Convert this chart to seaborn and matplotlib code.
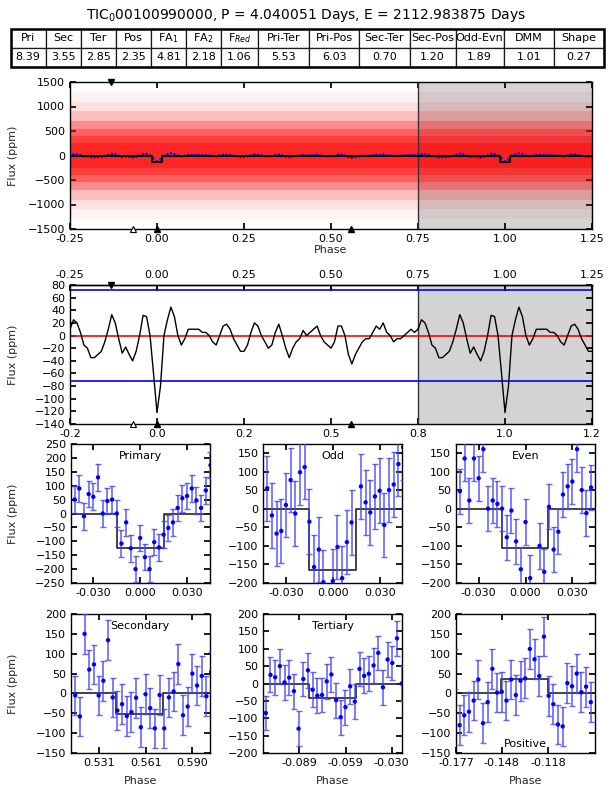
import numpy as np
import pandas as pd
import matplotlib
matplotlib.use('Agg')
import matplotlib.pyplot as plt
import seaborn as sns
from matplotlib.ticker import FormatStrFormatter, MultipleLocator
from matplotlib.patches import Rectangle

sns.set_theme(style='ticks')
plt.rcParams['font.family'] = ['DejaVu Sans']
plt.rcParams.update({
    'font.size': 8, 'xtick.labelsize': 8, 'ytick.labelsize': 8,
    'axes.labelsize': 8, 'axes.linewidth': 1.0,
    'xtick.direction': 'in', 'ytick.direction': 'in',
    'xtick.major.size': 4, 'ytick.major.size': 4,
    'axes.edgecolor': 'black', 'text.color': 'black',
    'xtick.color': 'black', 'ytick.color': 'black',
    'mathtext.fontset': 'dejavusans',
})

# ---------------- header info ----------------
tic_id = '00100990000'
period = 4.040051
epoch = 2112.983875
metric_names = ['Pri', 'Sec', 'Ter', 'Pos', 'FA$_1$', 'FA$_2$', 'F$_{Red}$',
                'Pri-Ter', 'Pri-Pos', 'Sec-Ter', 'Sec-Pos', 'Odd-Evn', 'DMM', 'Shape']
metric_values = [8.39, 3.55, 2.85, 2.35, 4.81, 2.18, 1.06,
                 5.53, 6.03, 0.70, 1.20, 1.89, 1.01, 0.27]

# ---------------- event phases / model ----------------
pri_phase = 0.0
sec_phase = 0.5567
ter_phase = -0.0676
pos_phase = -0.1331
tdur = 0.03
pri_depth = -125

# ---------------- full phased cloud: spread of raw points (ppm) ----------------
cloud_halfwidth = [1300, 1100, 900, 700, 550, 400, 250]

# ---------------- smoothed light curve (panel 2) ----------------
smooth_flux = [10, 25, 20, 5, -15, -20, -35, -35, -30, -25,
               -10, 10, 33, 20, -5, -28, -18, -30, -40, -25,
               0, 32, 30, 0, -60, -122, -80, 0, 25, 45,
               30, 0, -15, -5, 10, 10, 10, 10, 5, 5,
               0, -10, -15, 0, 15, 18, 10, -5, -15, -25,
               -25, -15, 5, 20, 15, 0, -10, -20, -15, 5,
               18, 0, -20, -35, -20, -10, -5, 8, 0, 5,
               10, 15, 0, -10, -15, -20, -10, 15, 15, 0,
               -30, -45, -30, -20, -10, -5, -5, 5, 15, 10,
               20, 5, 0, -10, -5, -5, 0, 5, 10, 5, 10]
smooth_phase = np.round(np.linspace(-0.25, 0.75, len(smooth_flux)), 2)
sig_level = 72.5
phase_ticks = [-0.25, 0.0, 0.25, 0.5, 0.75, 1.0, 1.25]

# ---------------- binned zoom panels ----------------
bin_offset = [-0.042, -0.039, -0.036, -0.033, -0.030, -0.027, -0.024, -0.021,
              -0.018, -0.015, -0.012, -0.009, -0.006, -0.003, 0.0, 0.003,
              0.006, 0.009, 0.012, 0.015, 0.018, 0.021, 0.024, 0.027,
              0.030, 0.033, 0.036, 0.039, 0.042, 0.045]

pri_flux = [50, 90, -10, 70, 60, 130, 0, 45, 50, 0, -108, -32, -125, -200, -88,
            -157, -200, -103, -122, -76, -52, -32, 20, 55, 63, 90, 47, 20, 83, 174]
odd_flux = [55, -18, -67, -60, 10, 77, -13, 98, 112, -35, -157, -110, -198, -300, -195,
            -103, -187, -90, -37, -300, 60, 17, -10, 33, 48, -44, 50, 65, 120, 165]
even_flux = [47, 135, 22, 135, 82, 160, 0, 22, 13, 0, -77, -5, -88, -163, -36,
             -187, -280, -100, -170, 5, -110, -62, 38, 60, 73, 160, 50, -12, 57, np.nan]
sec_flux = [-5, -58, 150, 60, 73, -5, 32, 134, -10, -43, -27, -57, -47, -11, -85,
            -2, -37, -88, -4, -88, -10, 5, 74, -55, -33, 50, 20, 44, -7, 54]
ter_flux = [-85, 25, 18, 50, 3, 17, -22, -130, 13, 38, -18, -35, -33, 6, 26,
            -48, -97, -68, -8, -52, 42, 22, 28, 52, 88, -11, 69, 59, 130, 0]
pos_flux = [62, -80, -55, -46, -18, 35, -75, -22, 62, 2, 4, -18, 35, -4, 32,
            38, 112, 86, 44, 143, -6, -27, -78, -83, 26, 18, 50, 3, 17, -22]

panels = [
    # name, flux, bin centre, err, depth, event, axis centre, ticks, ylim, label at top
    ('Primary', pri_flux, 0.0, 48, -125, pri_phase, 0.0, [-0.030, 0.0, 0.030], (-250, 250), True),
    ('Odd', odd_flux, 0.0, 87, -165, 0.0, 0.0, [-0.030, 0.0, 0.030], (-200, 174), True),
    ('Even', even_flux, 0.0, 61, -107, -0.0003, 0.0, [-0.030, 0.0, 0.030], (-200, 174), True),
    ('Secondary', sec_flux, 0.5574, 50, -53, sec_phase, 0.557, [0.5307, 0.5607, 0.5902], (-150, 200), True),
    ('Tertiary', ter_flux, -0.0682, 50, -42, ter_phase, -0.0673, [-0.0889, -0.0591, -0.0297], (-200, 200), True),
    ('Positive', pos_flux, -0.1358, 50, 36, pos_phase, -0.1326, [-0.1770, -0.1478, -0.1181], (-150, 200), False),
]
half_width = 0.0445

W, H = 612.0, 792.0


def box(l, t, r, b):
    return [l / W, 1 - b / H, (r - l) / W, (b - t) / H]


def flux_label(ax, top, bottom):
    ax.set_ylabel('Flux (ppm)')
    ax.yaxis.set_label_coords(18 / W, 1 - (top + bottom) / 2 / H, transform=fig.transFigure)


def mark_events(ax, ylo, yhi):
    ax.plot([pri_phase, sec_phase], [ylo, ylo], '^', color='black', ms=5, clip_on=False, zorder=6)
    ax.plot([ter_phase], [ylo], '^', mfc='white', mec='black', mew=0.8, ms=5, clip_on=False, zorder=6)
    ax.plot([pos_phase], [yhi], 'v', color='black', ms=5, clip_on=False, zorder=6)


fig = plt.figure(figsize=(6.12, 7.92), dpi=100)

# ---------------- title + table ----------------
fig.text(0.5, 1 - 15 / H, f'TIC$_0${tic_id}, P = {period:.6f} Days, E = {epoch:.6f} Days',
         ha='center', va='center', fontsize=10)

axt = fig.add_axes(box(10.6, 29, 604, 67))
axt.axis('off')
col_w = np.array([35, 35, 35, 35, 35, 35, 37, 51, 50, 50, 46, 48, 50, 50], float)
tbl = axt.table(cellText=[[f'{v:.2f}' for v in metric_values]], colLabels=metric_names,
                cellLoc='center', bbox=[0, 0, 1, 1], colWidths=list(col_w / col_w.sum()))
tbl.auto_set_font_size(False)
tbl.set_fontsize(8)
for cell in tbl.get_celld().values():
    cell.set_linewidth(0.9)
axt.add_patch(Rectangle((0, 0), 1, 1, transform=axt.transAxes, fill=False, lw=1.8,
                        edgecolor='black', clip_on=False))

# ---------------- smoothed curve with extra half cycle ----------------
curve = pd.DataFrame({'phase': smooth_phase, 'flux': smooth_flux})
extra = curve[(curve.phase > -0.25) & (curve.phase <= 0.25)].assign(phase=lambda d: d.phase + 1)
curve_ext = pd.concat([curve, extra], ignore_index=True)

# ---------------- panel 1 : full phase ----------------
ax1 = fig.add_axes(box(70, 82, 592, 229))
ax1.axvspan(0.75, 1.25, color='#d3d3d3', lw=0, zorder=0)
band_alpha = [0.05, 0.074, 0.148, 0.267, 0.309, 0.342, 0.4]
for w, a in zip(cloud_halfwidth, band_alpha):
    ax1.fill_between([-0.25, 1.25], -w, w, color='#ff0000', alpha=a, lw=0, zorder=1)
ax1.axvline(0.75, color='#333333', lw=1, zorder=2)
sns.scatterplot(data=curve_ext, x='phase', y='flux', color='#0000ff', s=3,
                edgecolor='none', ax=ax1, zorder=3, legend=False)
model_x = [-0.25, -tdur / 2, -tdur / 2, tdur / 2, tdur / 2, 1 - tdur / 2, 1 - tdur / 2,
           1 + tdur / 2, 1 + tdur / 2, 1.25]
model_y = [0, 0, pri_depth, pri_depth, 0, 0, pri_depth, pri_depth, 0, 0]
ax1.plot(model_x, model_y, color='black', lw=1.5, zorder=4)
ax1.set_xlim(-0.25, 1.25)
ax1.set_ylim(-1500, 1500)
ax1.set_xticks(phase_ticks)
ax1.xaxis.set_major_formatter(FormatStrFormatter('%.2f'))
ax1.yaxis.set_major_locator(MultipleLocator(500))
ax1.tick_params(top=True, right=True)
ax1.set_xlabel('Phase', labelpad=1)
flux_label(ax1, 82, 229)
mark_events(ax1, -1500, 1500)

# ---------------- panel 2 : smoothed ----------------
ax2 = fig.add_axes(box(70, 285, 592, 424))
ax2.axvspan(0.75, 1.25, color='#d3d3d3', lw=0, zorder=0)
ax2.axvline(0.75, color='#333333', lw=1, zorder=2)
ax2.axhline(0, color='#ff0000', lw=1.2, zorder=2)
ax2.axhline(sig_level, color='#0000ff', lw=1.2, zorder=2)
ax2.axhline(-sig_level, color='#0000ff', lw=1.2, zorder=2)
sns.lineplot(data=curve_ext, x='phase', y='flux', color='black', lw=1.0,
             estimator=None, sort=True, ax=ax2, zorder=3)
ax2.set_xlim(-0.25, 1.25)
ax2.set_ylim(-140, 80)
ax2.set_xticks(phase_ticks)
ax2.xaxis.set_major_formatter(FormatStrFormatter('%.1f'))
ax2.yaxis.set_major_locator(MultipleLocator(20))
ax2.tick_params(top=True, right=True)
top2 = ax2.secondary_xaxis('top')
top2.set_xticks(phase_ticks)
top2.xaxis.set_major_formatter(FormatStrFormatter('%.2f'))
top2.tick_params(direction='in', length=4)
ax2.set_xlabel('')
flux_label(ax2, 285, 424)
mark_events(ax2, -140, 80)

# ---------------- zoom panels ----------------
lefts = [70.7, 263.3, 456]
rows = [(444, 583), (614, 753)]
for i, (name, flux, bcen, err, depth, ev, acen, ticks, ylim, top_lab) in enumerate(panels):
    t, b = rows[i // 3]
    l = lefts[i % 3]
    ax = fig.add_axes(box(l, t, l + 139, b))
    lo, hi = acen - half_width, acen + half_width
    mx = [lo, ev - tdur / 2, ev - tdur / 2, ev + tdur / 2, ev + tdur / 2, hi]
    my = [0, 0, depth, depth, 0, 0]
    ax.plot(mx, my, color='#222222', lw=1.2, zorder=2)
    ph = [bcen + o for o in bin_offset]
    ax.errorbar(ph, flux, yerr=err, fmt='none', ecolor=(0.25, 0.25, 1.0, 0.8),
                elinewidth=1.2, capsize=2.5, capthick=1.0, zorder=3)
    sns.scatterplot(x=ph, y=flux, color='#0000ff', s=10, edgecolor='none', ax=ax,
                    zorder=4, legend=False)
    ax.set_xlim(lo, hi)
    ax.set_ylim(*ylim)
    ax.set_xticks(ticks)
    ax.xaxis.set_major_formatter(FormatStrFormatter('%.3f'))
    ax.yaxis.set_major_locator(MultipleLocator(50))
    ax.tick_params(top=True, right=True)
    if top_lab:
        ax.text(0.5, 0.95, name, transform=ax.transAxes, ha='center', va='top', fontsize=8)
    else:
        ax.text(0.5, 0.03, name, transform=ax.transAxes, ha='center', va='bottom', fontsize=8)
    if i % 3 == 0:
        flux_label(ax, t, b)
    if i >= 3:
        ax.set_xlabel('Phase', labelpad=6)

fig.savefig('out.png', dpi=100)
